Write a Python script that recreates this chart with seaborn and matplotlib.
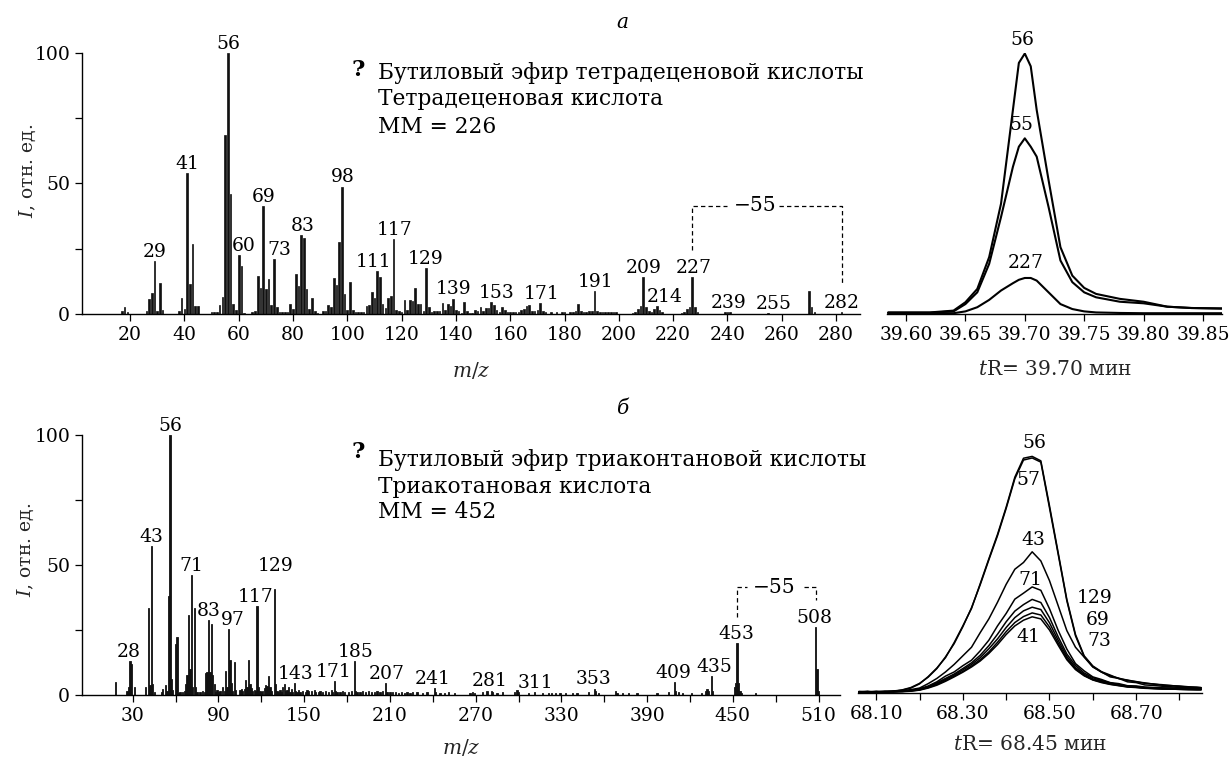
import matplotlib
matplotlib.use("Agg")
import matplotlib.pyplot as plt
import numpy as np
import pandas as pd
import seaborn as sns

# ---------------- data: mass spectrum (а) ----------------
mz_a = [
    17, 18, 19, 26, 27, 28, 29, 30, 31, 32,
    38, 39, 40, 41, 42, 43, 44, 45, 50, 51,
    52, 53, 54, 55, 56, 57, 58, 59, 60, 61,
    62, 65, 66, 67, 68, 69, 70, 71, 72, 73,
    74, 75, 76, 77, 78, 79, 80, 81, 82, 83,
    84, 85, 86, 87, 88, 89, 91, 92, 93, 94,
    95, 96, 97, 98, 99, 100, 101, 102, 103, 104,
    105, 106, 107, 108, 109, 110, 111, 112, 113, 114,
    115, 116, 117, 118, 119, 120, 121, 122, 123, 124,
    125, 126, 127, 128, 129, 130, 131, 132, 133, 134,
    135, 136, 137, 138, 139, 140, 141, 142, 143, 144,
    145, 146, 147, 148, 149, 150, 151, 152, 153, 154,
    155, 156, 157, 158, 159, 160, 161, 162, 163, 164,
    165, 166, 167, 168, 169, 170, 171, 172, 173, 175,
    177, 179, 180, 182, 183, 184, 185, 186, 187, 188,
    189, 190, 191, 192, 193, 194, 195, 196, 197, 198,
    199, 205, 206, 207, 208, 209, 210, 211, 212, 213,
    214, 215, 216, 223, 224, 225, 226, 227, 228, 229,
    239, 240, 241, 255, 270, 271, 272, 282]
int_a = [
    1.0, 2.6, 0.8, 1.0, 5.7, 7.9, 20.4, 1.0, 12.0, 1.5,
    1.0, 6.3, 2.0, 54.0, 11.4, 27.0, 3.0, 3.0, 0.8, 0.8,
    0.8, 3.5, 6.6, 68.6, 100.0, 46.0, 3.8, 1.5, 22.5, 18.3,
    0.5, 0.6, 1.0, 14.5, 9.8, 41.4, 9.4, 13.3, 3.4, 21.2,
    2.6, 0.6, 0.6, 0.6, 0.6, 3.8, 2.0, 15.3, 10.7, 30.3,
    29.1, 9.6, 1.9, 6.2, 1.0, 0.5, 1.0, 1.0, 3.3, 2.6,
    13.8, 11.0, 27.5, 48.8, 7.5, 1.7, 12.2, 1.5, 0.7, 0.7,
    0.7, 0.7, 3.0, 3.5, 8.6, 6.0, 16.6, 14.0, 4.0, 2.3,
    6.1, 7.0, 28.7, 1.7, 1.3, 0.8, 5.2, 1.5, 5.2, 4.8,
    10.0, 4.0, 4.0, 1.0, 17.7, 2.8, 0.9, 1.0, 1.0, 1.0,
    4.3, 1.5, 3.8, 3.0, 5.9, 1.5, 1.0, 0.5, 4.5, 1.0,
    0.5, 0.5, 1.5, 1.0, 2.8, 1.0, 2.4, 2.3, 4.5, 3.4,
    1.5, 0.8, 2.8, 1.5, 0.7, 0.7, 0.6, 0.7, 0.7, 1.5,
    1.8, 3.2, 3.4, 1.0, 1.0, 1.5, 4.3, 1.3, 0.8, 0.6,
    0.6, 0.6, 0.6, 0.6, 0.6, 1.2, 3.8, 1.0, 0.7, 0.7,
    1.2, 1.3, 8.8, 1.3, 0.7, 0.7, 0.7, 0.6, 0.6, 0.6,
    0.6, 0.5, 0.9, 1.8, 3.2, 14.0, 2.8, 1.3, 0.6, 1.8,
    3.1, 1.5, 0.6, 0.5, 0.9, 1.8, 2.8, 14.0, 2.6, 0.9,
    0.6, 0.6, 0.6, 0.5, 8.9, 2.6, 0.9, 0.6]
peaks_a = [29, 41, 56, 60, 69, 73, 83, 98, 111, 117, 129, 139, 153,
           171, 191, 209, 214, 227, 239, 255, 282]
xticks_a = [20, 40, 60, 80, 100, 120, 140, 160, 180, 200, 220, 240, 260, 280]

# ---------------- data: mass spectrum (б) ----------------
mz_b = [
    18, 26, 27, 28, 29, 31, 39, 41, 42, 43,
    44, 45, 50, 51, 53, 54, 55, 56, 57, 58,
    60, 61, 62, 63, 65, 66, 67, 68, 69, 70,
    71, 72, 73, 74, 75, 77, 79, 80, 81, 82,
    83, 84, 85, 86, 87, 88, 89, 90, 91, 93,
    94, 95, 96, 97, 98, 99, 100, 101, 102, 105,
    106, 107, 108, 109, 110, 111, 112, 113, 114, 115,
    116, 117, 118, 119, 120, 121, 122, 123, 124, 125,
    126, 127, 129, 130, 131, 132, 133, 134, 135, 136,
    137, 138, 139, 140, 141, 142, 143, 144, 145, 146,
    147, 149, 151, 152, 153, 155, 157, 158, 160, 161,
    163, 165, 167, 169, 170, 171, 172, 173, 175, 177,
    178, 181, 183, 185, 186, 187, 189, 191, 193, 195,
    197, 199, 201, 203, 205, 207, 208, 210, 212, 214,
    216, 218, 220, 222, 224, 226, 229, 233, 236, 241,
    242, 245, 248, 251, 255, 266, 268, 269, 275, 278,
    281, 282, 285, 289, 297, 299, 300, 307, 311, 317,
    321, 323, 326, 329, 333, 338, 341, 349, 353, 354,
    356, 368, 369, 373, 377, 383, 397, 405, 409, 410,
    412, 415, 421, 428, 431, 432, 433, 435, 436, 451,
    452, 453, 454, 455, 456, 466, 508, 509, 510]
int_b = [
    5.0, 1.5, 3.2, 13.2, 12.0, 3.2, 3.2, 33.3, 4.0, 57.4,
    4.2, 1.3, 1.0, 2.2, 3.8, 1.5, 38.2, 100.0, 6.2, 2.0,
    19.6, 22.2, 0.6, 1.0, 1.0, 1.5, 4.1, 7.7, 30.8, 9.9,
    46.2, 3.2, 33.3, 3.2, 1.3, 1.0, 1.5, 1.2, 8.3, 9.0,
    28.8, 9.0, 27.2, 7.7, 4.2, 1.3, 2.0, 1.0, 1.5, 3.2,
    1.5, 9.2, 3.2, 25.3, 13.5, 4.5, 1.5, 12.6, 2.0, 2.0,
    2.5, 1.5, 2.5, 5.8, 3.2, 13.5, 4.2, 2.6, 1.5, 2.0,
    1.5, 34.2, 3.2, 1.5, 1.0, 1.5, 2.6, 3.8, 3.5, 7.3,
    3.2, 1.5, 40.6, 4.2, 1.5, 1.0, 2.0, 1.2, 3.0, 4.2,
    1.5, 2.0, 3.0, 1.2, 2.5, 1.2, 4.5, 1.5, 1.0, 2.0,
    1.0, 1.5, 1.0, 2.0, 1.5, 1.5, 2.0, 1.2, 1.0, 1.5,
    1.0, 1.5, 1.0, 2.0, 1.0, 5.5, 1.5, 1.0, 1.0, 1.5,
    1.0, 1.0, 1.5, 13.0, 1.5, 1.0, 1.0, 1.5, 1.0, 1.5,
    1.2, 1.0, 1.5, 1.0, 1.5, 4.7, 1.2, 1.0, 1.0, 1.0,
    0.8, 1.0, 0.8, 1.0, 0.8, 1.3, 1.0, 0.8, 1.0, 2.6,
    1.0, 0.8, 0.8, 1.0, 0.8, 0.8, 1.0, 0.8, 1.0, 1.5,
    1.7, 1.0, 0.8, 1.2, 1.3, 2.0, 1.0, 0.8, 1.0, 0.8,
    0.8, 0.8, 0.8, 0.8, 0.8, 0.8, 0.8, 1.0, 2.5, 1.5,
    0.8, 1.5, 0.8, 0.8, 0.8, 0.8, 0.8, 1.0, 5.1, 1.5,
    1.0, 0.6, 0.8, 0.8, 1.5, 2.3, 1.5, 7.3, 1.5, 3.0,
    4.5, 20.1, 4.5, 1.5, 0.8, 0.8, 26.0, 9.9, 1.5]
peaks_b = [28, 43, 56, 71, 83, 97, 117, 129, 143, 171, 185, 207, 241,
           281, 311, 353, 409, 435, 453, 508]
xticks_b = [30, 60, 90, 120, 150, 180, 210, 240, 270, 300, 330, 360,
            390, 420, 450, 480, 510]
xticklabels_b = ['30', '', '90', '', '150', '', '210', '', '270', '',
                 '330', '', '390', '', '450', '', '510']

# ---------------- data: ion chromatograms (а) ----------------
t_a = [39.585, 39.60, 39.62, 39.64, 39.65, 39.66, 39.67, 39.68, 39.69,
       39.695, 39.70, 39.705, 39.71, 39.72, 39.73, 39.74, 39.75, 39.76,
       39.78, 39.80, 39.82, 39.84, 39.866]
ion56_a = [0.6, 0.6, 0.6, 1.3, 4.5, 9.6, 21.8, 42.3, 78.2, 96.2, 99.8,
           94.9, 78.2, 51.3, 25.6, 14.7, 10.0, 7.7, 5.8, 4.7, 2.8, 2.3, 2.1]
ion55_a = [0.5, 0.5, 0.5, 1.0, 3.8, 8.3, 19.2, 37.2, 56.4, 64.1, 67.3,
           64.1, 60.3, 41.0, 20.5, 12.2, 8.3, 6.4, 4.7, 4.1, 2.8, 2.3, 2.1]
ion227_a = [0.3, 0.3, 0.3, 0.3, 1.0, 2.6, 5.4, 9.0, 11.8, 13.1, 13.8,
            13.8, 12.8, 8.3, 3.8, 1.9, 1.0, 0.6, 0.4, 0.3, 0.3, 0.3, 0.3]
xticks_ta = [39.60, 39.65, 39.70, 39.75, 39.80, 39.85]
xticklabels_ta = ['39.60', '39.65', '39.70', '39.75', '39.80', '39.85']

# ---------------- data: ion chromatograms (б) ----------------
t_b = [68.06, 68.08, 68.10, 68.12, 68.14, 68.16, 68.18, 68.20, 68.22, 68.24,
       68.26, 68.28, 68.30, 68.32, 68.34, 68.36, 68.38, 68.40, 68.42, 68.44,
       68.46, 68.48, 68.50, 68.52, 68.54, 68.56, 68.58, 68.60, 68.62, 68.64,
       68.66, 68.68, 68.70, 68.72, 68.74, 68.76, 68.78, 68.80, 68.82, 68.84,
       68.85]
ion56_b = [0.6, 0.4, 0.7, 0.5, 0.8, 1.1, 1.9, 3.5, 6.3, 9.6, 13.6, 19.4,
           25.8, 32.5, 42.0, 51.6, 61.0, 71.5, 83.0, 90.3, 91.0, 89.3, 72.0,
           54.0, 36.0, 22.5, 14.3, 10.4, 8.2, 6.9, 5.5, 5.0, 4.3, 3.9, 3.4,
           3.2, 2.8, 2.7, 2.4, 2.2, 2.1]
ion57_b = [0.5, 0.6, 0.4, 0.7, 0.6, 1.2, 2.1, 3.7, 6.1, 9.4, 13.9, 19.0,
           25.5, 32.8, 41.6, 51.2, 60.5, 71.0, 82.4, 89.6, 90.4, 88.8, 71.2,
           53.4, 35.5, 22.0, 14.0, 10.1, 8.0, 6.6, 5.7, 4.8, 4.4, 3.7, 3.5,
           3.0, 2.9, 2.5, 2.3, 2.2, 2.0]
ion43_b = [0.4, 0.6, 0.3, 0.5, 0.7, 0.9, 1.3, 1.9, 3.6, 5.6, 8.1, 11.0,
           14.3, 17.6, 23.2, 28.5, 34.9, 41.8, 47.6, 50.2, 54.3, 50.8, 43.2,
           33.6, 24.0, 17.6, 13.8, 10.0, 8.1, 6.2, 5.6, 4.3, 4.0, 3.1, 2.9,
           2.6, 2.4, 2.1, 2.0, 1.9, 1.9]
ion71_b = [0.3, 0.5, 0.4, 0.6, 0.5, 0.8, 1.0, 1.6, 2.7, 4.3, 6.5, 8.1,
           10.5, 12.6, 16.2, 20.3, 25.8, 30.6, 36.1, 38.4, 40.8, 39.5, 32.4,
           24.1, 16.9, 11.3, 8.5, 6.2, 5.2, 4.0, 3.6, 2.8, 2.7, 2.3, 2.1,
           2.0, 1.9, 1.8, 1.7, 1.8, 1.7]
ion129_b = [0.4, 0.3, 0.5, 0.4, 0.6, 0.7, 0.9, 1.5, 2.4, 3.9, 5.6, 7.3,
            9.4, 11.6, 14.5, 18.2, 22.6, 27.4, 31.5, 34.0, 36.0, 34.8, 29.0,
            21.6, 15.0, 10.6, 7.7, 5.9, 4.8, 3.9, 3.2, 2.7, 2.5, 2.1, 2.0,
            1.8, 1.9, 1.7, 1.6, 1.6, 1.5]
ion69_b = [0.3, 0.5, 0.4, 0.3, 0.5, 0.6, 0.9, 1.3, 2.3, 3.6, 5.2, 6.9,
           8.9, 11.0, 13.6, 17.0, 20.8, 25.2, 29.0, 31.6, 33.0, 32.1, 27.0,
           20.3, 14.1, 9.8, 7.2, 5.4, 4.5, 3.6, 3.1, 2.5, 2.3, 2.0, 1.8,
           1.7, 1.6, 1.5, 1.5, 1.4, 1.4]
ion73_b = [0.2, 0.4, 0.3, 0.5, 0.4, 0.6, 0.8, 1.2, 2.1, 3.3, 4.8, 6.5,
           8.3, 10.4, 12.8, 15.8, 19.5, 23.6, 27.1, 29.4, 30.8, 30.0, 25.4,
           19.2, 13.3, 9.3, 6.8, 5.1, 4.2, 3.4, 2.9, 2.4, 2.2, 1.9, 1.7,
           1.6, 1.5, 1.4, 1.3, 1.3, 1.3]
ion41_b = [0.3, 0.2, 0.4, 0.3, 0.5, 0.5, 0.7, 1.1, 1.9, 3.0, 4.5, 6.2,
           8.0, 10.0, 12.3, 15.2, 18.6, 22.5, 25.8, 28.0, 29.3, 28.5, 24.2,
           18.4, 12.8, 9.0, 6.6, 5.0, 4.0, 3.3, 2.8, 2.3, 2.1, 1.8, 1.7,
           1.5, 1.5, 1.4, 1.3, 1.2, 1.2]
xticks_tb = [68.10, 68.20, 68.30, 68.40, 68.50, 68.60, 68.70, 68.80]
xticklabels_tb = ['68.10', '', '68.30', '', '68.50', '', '68.70', '']

# ---------------- texts ----------------
title_a = 'а'
title_b = 'б'
name_a = ['Бутиловый эфир тетрадеценовой кислоты', 'Тетрадеценовая кислота', 'ММ = 226']
name_b = ['Бутиловый эфир триаконтановой кислоты', 'Триакотановая кислота', 'ММ = 452']
ylabel = r'$I$, отн. ед.'
xlabel_ms = r'$m/z$'
xlabel_ta = r'$t$R= 39.70 мин'
xlabel_tb = r'$t$R= 68.45 мин'

# ---------------- style ----------------
sns.set_theme(style="ticks")
plt.rcParams['font.family'] = ['DejaVu Serif']
plt.rcParams['mathtext.fontset'] = 'dejavuserif'
plt.rcParams['axes.edgecolor'] = 'black'
plt.rcParams['axes.linewidth'] = 1.0
plt.rcParams['xtick.color'] = 'black'
plt.rcParams['ytick.color'] = 'black'
plt.rcParams['text.color'] = 'black'

FS = 13.5
INK = '#111111'

W, H = 1232, 758


def rect(l, r, t, b):
    return [l / W, 1 - b / H, (r - l) / W, (b - t) / H]


fig = plt.figure(figsize=(W / 100, H / 100), dpi=100)
fig.patch.set_facecolor('white')
axA = fig.add_axes(rect(82, 860, 53, 314))
axAt = fig.add_axes(rect(887, 1222, 53, 314))
axB = fig.add_axes(rect(82, 840, 435, 695))
axBt = fig.add_axes(rect(858, 1202, 433, 693))


def style_axis(ax, left=True):
    ax.set_facecolor('none')
    for s in ['top', 'right']:
        ax.spines[s].set_visible(False)
    ax.spines['left'].set_visible(left)
    ax.tick_params(axis='both', direction='out', length=5, width=0.9,
                   labelsize=FS, pad=3.5, colors='black')
    if not left:
        ax.set_yticks([])
    ax.set_ylabel('')
    ax.set_xlabel('')


def spectrum(ax, mz, inten, width, edge, xlim, peaks, dx, dy, xticks, xticklabels):
    df = pd.DataFrame({'mz': mz, 'I': inten})
    sns.barplot(data=df, x='mz', y='I', native_scale=True, width=width,
                color=INK, saturation=1, errorbar=None, orient='x',
                linewidth=edge, edgecolor=INK, ax=ax)
    ax.set_xlim(*xlim)
    ax.set_ylim(0, 100)
    ax.set_yticks([0, 25, 50, 75, 100])
    ax.set_yticklabels(['0', '', '50', '', '100'])
    ax.set_xticks(xticks)
    ax.set_xticklabels(xticklabels)
    style_axis(ax)
    lookup = dict(zip(mz, inten))
    for p, ddx, ddy in zip(peaks, dx, dy):
        ax.annotate(str(p), xy=(p + ddx, lookup[p]), xytext=(0, 3 + ddy),
                    textcoords='offset points', ha='center', va='baseline',
                    fontsize=FS)
    ax.set_ylabel(ylabel, fontsize=FS)
    ax.set_xlabel(xlabel_ms, fontsize=FS + 1)


# --- spectrum a ---
dx_a = [0, 0, 0, 2, 0, 2, 0.5, 0.5, -1.5, 0.5, 0, 0, 2, 0.5, 0.5, 0, 3, 0.5, 1.4, 2, 0]
dy_a = [0] * len(peaks_a)
spectrum(axA, mz_a, int_a, 0.6, 0.5, (2.3, 288.8), peaks_a, dx_a, dy_a,
         xticks_a, [str(v) for v in xticks_a])
axA.yaxis.set_label_coords(-0.057, 0.55)
axA.xaxis.set_label_coords(0.5, -0.175)

# --- spectrum b ---
dx_b = [-1, 0, 0, 0, 0, 3, -1, 1, 0.7, -0.5, 1, 1, -1, -1, 0.7, -0.5, -0.4, 2, -0.5, -0.7]
dy_b = [0, 0, 0, 0, 0, 0, 0, 10, 0, 0, 0, 0, 0, 0, 0, 0, 0, 0, 0, 0]
spectrum(axB, mz_b, int_b, 0.9, 0.6, (-5.5, 525), peaks_b, dx_b, dy_b,
         xticks_b, xticklabels_b)
axB.yaxis.set_label_coords(-0.061, 0.56)
axB.xaxis.set_label_coords(0.5, -0.163)

# --- name annotations ---
for ax, lines, xq, xt, yq, ys in [
        (axA, name_a, 0.355, 0.380, 0.935, [0.923, 0.822, 0.716]),
        (axB, name_b, 0.365, 0.3905, 0.935, [0.904, 0.800, 0.704])]:
    ax.text(xq, yq, '?', transform=ax.transAxes, ha='center', va='center',
            fontsize=FS + 3, fontweight='bold', zorder=10)
    for line, yy in zip(lines, ys):
        ax.text(xt, yy, line, transform=ax.transAxes, ha='left', va='center',
                fontsize=FS + 2.2, zorder=10, clip_on=False)

# --- "-55" brackets ---
dash = dict(color='black', lw=0.9, ls=(0, (3.5, 2.5)), clip_on=False)
axA.plot([227, 227, 239.8], [24.5, 41.4, 41.4], **dash)
axA.plot([258.8, 282, 282], [41.4, 41.4, 11.1], **dash)
axA.text(250.2, 41.4, '−55', ha='center', va='center', fontsize=FS + 1)
axB.plot([453, 453, 460], [30.1, 41.4, 41.4], **dash)
axB.plot([499.6, 508, 508], [41.4, 41.4, 36.5], **dash)
axB.text(479, 41.4, '−55', ha='center', va='center', fontsize=FS + 1)

# --- chromatogram a ---
for y in [ion56_a, ion55_a, ion227_a]:
    sns.lineplot(x=t_a, y=y, ax=axAt, color='black', lw=1.5,
                 estimator=None, sort=False)
axAt.set_xlim(39.584, 39.866)
axAt.set_ylim(0, 100)
axAt.set_xticks(xticks_ta)
axAt.set_xticklabels(xticklabels_ta)
style_axis(axAt, left=False)
for txt, tx, ty in [('56', 39.6975, 105), ('55', 39.6975, 72.4), ('227', 39.701, 19.5)]:
    axAt.text(tx, ty, txt, ha='center', va='center', fontsize=FS, clip_on=False)
axAt.set_xlabel(xlabel_ta, fontsize=FS + 1)
axAt.xaxis.set_label_coords(0.5, -0.175)

# --- chromatogram b ---
for y in [ion56_b, ion57_b, ion43_b, ion71_b, ion129_b, ion69_b, ion73_b, ion41_b]:
    sns.lineplot(x=t_b, y=y, ax=axBt, color='black', lw=1.1,
                 estimator=None, sort=False)
axBt.set_xlim(68.058, 68.852)
axBt.set_ylim(0, 100)
axBt.set_xticks(xticks_tb)
axBt.set_xticklabels(xticklabels_tb)
style_axis(axBt, left=False)
for txt, tx, ty in [('56', 68.464, 96), ('57', 68.452, 82), ('43', 68.462, 59),
                    ('71', 68.455, 43.6), ('129', 68.604, 36.5), ('69', 68.61, 28.2),
                    ('73', 68.615, 19.9), ('41', 68.45, 21.5)]:
    axBt.text(tx, ty, txt, ha='center', va='center', fontsize=FS, clip_on=False)
axBt.set_xlabel(xlabel_tb, fontsize=FS + 1)
axBt.xaxis.set_label_coords(0.5, -0.163)

# --- panel letters ---
fig.text(622 / W, 1 - 22 / H, title_a, ha='center', va='center',
         fontsize=FS + 1, style='italic')
fig.text(622 / W, 1 - 408 / H, title_b, ha='center', va='center',
         fontsize=FS + 1, style='italic')

fig.savefig('out.png', dpi=100, facecolor='white')
